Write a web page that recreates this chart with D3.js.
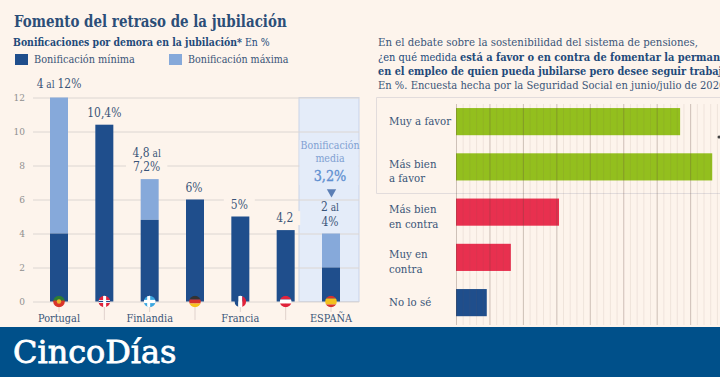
<!DOCTYPE html>
<html><head><meta charset="utf-8">
<script src="https://cdn.jsdelivr.net/npm/d3@7"></script>
<style>html,body{margin:0;padding:0;background:#fdf4ec;overflow:hidden}svg{display:block}text{font-family:"DejaVu Serif",serif}</style>
</head><body><svg id="c" width="720" height="377"></svg>
<script>
const countries=["Portugal","Reino Unido","Finlandia","Alemania","Francia","Austria","ESPAÑA"];
const minBonus=[4,10.4,4.8,6,5,4.2,2];
const maxBonus=[12,10.4,7.2,6,5,4.2,4];
const barLabels=[["4 al 12%"],["10,4%"],["4,8 al","7,2%"],["6%"],["5%"],["4,2"],["2 al","4%"]];
const yTicks=[0,2,4,6,8,10,12];
const surveyKeys=["Muy a favor","Más bien a favor","Más bien en contra","Muy en contra","No lo sé"];
const surveyLines=[["Muy a favor"],["Más bien","a favor"],["Más bien","en contra"],["Muy en","contra"],["No lo sé"]];
const surveyVals=[33.5,38.3,15.4,8.2,4.6];
const surveyColors=["#93bf1e","#93bf1e","#e8304f","#e8304f","#1f4e8c"];

const BG="#fdf4ec",DARK="#1f4e8c",LIGHT="#86a9da",INK="#3a5478",GRID="#dcd6d2";
const SX=0.93,LS=0.86;
const svg=d3.select("#c");
svg.append("rect").attr("width",720).attr("height",377).attr("fill",BG);
function T(parent,str,x,y,o={}){
  const t=parent.append("text").attr("transform",`translate(${x},${y}) scale(${o.sx||SX},1)`)
    .attr("font-size",o.size||10.5).attr("fill",o.fill||INK).attr("text-anchor",o.anchor||"start")
    .attr("font-weight",o.weight||400);
  (Array.isArray(str)?str:[[str,o.weight||400]]).forEach(p=>t.append("tspan").text(p[0]).attr("font-weight",p[1]));
  return t;
}
// left chart
const y=d3.scaleLinear().domain([0,12]).range([301.5,97.5]);
const x=d3.scalePoint().domain(countries).range([59,331]);
const L=33,R=359;
svg.append("rect").attr("x",299).attr("y",97.5).attr("width",60).attr("height",204).attr("fill","#e4ecf9").attr("stroke","#c9d3e8").attr("stroke-width",1);
const ax=svg.append("g").attr("transform",`translate(${L},0)`)
  .call(d3.axisLeft(y).tickValues(yTicks).tickSize(-(R-L)).tickPadding(8));
ax.select(".domain").remove();
ax.selectAll("line").attr("stroke",GRID).attr("stroke-width",1);
ax.selectAll("text").attr("font-family","DejaVu Serif").attr("font-size",9).attr("fill","#8f8f8f");
const gaps=svg.append("g");
const bars=svg.append("g");
const w=18;
countries.forEach((c,i)=>{
  const cx=x(c);
  if(maxBonus[i]>minBonus[i]) bars.append("rect").attr("x",cx-w/2).attr("width",w).attr("y",y(maxBonus[i])).attr("height",y(minBonus[i])-y(maxBonus[i])).attr("fill",LIGHT);
  bars.append("rect").attr("x",cx-w/2).attr("width",w).attr("y",y(minBonus[i])).attr("height",y(0)-y(minBonus[i])).attr("fill",DARK);
  const lab=barLabels[i],base=y(maxBonus[i])-(i==0?10:8);
  const lx=cx+(i==2?-3:(i<2?0:-1));
  lab.forEach((l,j)=>{
    const by=base-(lab.length-1-j)*14.5;
    const parts=l.split(/( al ?)/).filter(s=>s);
    const tx=T(svg,"",lx,by,{size:12.5,anchor:"middle",sx:LS});
    tx.selectAll("tspan").remove();
    parts.forEach(p=>tx.append("tspan").text(p).attr("font-size",/al/.test(p)?10.5:12.5));
    if(i!=6 && i!=0){const b=tx.node().getBBox(),pad=7;
      gaps.append("rect").attr("x",lx-b.width*LS/2-pad).attr("width",b.width*LS+2*pad).attr("y",by-11).attr("height",14).attr("fill",BG);}
  });
});
// panel callout
gaps.append("rect").attr("x",299.5).attr("y",140).attr("width",59).attr("height",45).attr("fill","#e4ecf9");
T(svg,"Bonificación",330,149,{size:10.5,anchor:"middle",fill:"#7fa0d2",sx:.9});
T(svg,"media",330,162,{size:10.5,anchor:"middle",fill:"#7fa0d2",sx:.9});
T(svg,"3,2%",330,181,{size:14,anchor:"middle",fill:"#5f8fd0",sx:.92}).attr("stroke","#5f8fd0").attr("stroke-width",.3);
svg.append("path").attr("d",d3.symbol(d3.symbolTriangle,38)()).attr("transform",`translate(331.5,192) rotate(180)`).attr("fill","#5c7fb5");
// flags
const defs=svg.append("defs");
const flags=[
 [["#2e7d32",-6,6],["#d9342b",-1,7]],
 [["#e0233c",-6,12],["#fff",-1.5,3],["#1f4e8c",-0.6,1.2]],
 [["#3ba7e0",-6,12],["#fff",-1.6,3.2]],
 [["#333",-6,4],["#d6322c",-2,4],["#f6c21c",2,4]],
 [["#1f4e8c",-6,4],["#fff",-2,4],["#e0233c",2,4]],
 [["#e0233c",-6,4],["#fff",-2,4],["#e0233c",2,4]],
 [["#d6322c",-6,3],["#f3c11e",-3,6],["#d6322c",3,3]]
];
const stems=[312,320,312,320,312,320,312];
const fy=301;
countries.forEach((c,i)=>{
  const cx=x(c);
  svg.append("line").attr("x1",cx).attr("x2",cx).attr("y1",fy).attr("y2",stems[i]).attr("stroke","#e0d2cd");
  defs.append("clipPath").attr("id","f"+i).append("circle").attr("cx",cx).attr("cy",fy+0.5).attr("r",5.8);
  const g=svg.append("g").attr("clip-path",`url(#f${i})`);
  flags[i].forEach(s=>{
    if(i==4) g.append("rect").attr("x",cx+s[1]).attr("y",fy-6).attr("width",s[2]).attr("height",13).attr("fill",s[0]);
    else g.append("rect").attr("x",cx-6).attr("y",fy+0.5+s[1]).attr("width",13).attr("height",s[2]).attr("fill",s[0]);
  });
  if(i==1||i==2) g.append("rect").attr("x",cx-(i==2?2.5:1.2)).attr("y",fy-6).attr("width",3).attr("height",13).attr("fill","#fff");
  if(i==0) g.append("circle").attr("cx",cx).attr("cy",fy+0.5).attr("r",2.2).attr("fill","#e7b52c");
  T(svg,c,cx,i%2==0?322:337,{size:10.5,anchor:"middle"});
});
// headers
T(svg,"Fomento del retraso de la jubilación",14,27,{size:16,weight:700,fill:"#2c4e78",sx:.84});
T(svg,[["Bonificaciones por demora en la jubilación*",700],[" En %",400]],13,46,{size:10.5,fill:"#234a7a",sx:.89});
svg.append("rect").attr("x",15).attr("y",54).attr("width",13).attr("height",11).attr("fill",DARK);
T(svg,"Bonificación mínima",34,63,{size:10.5});
svg.append("rect").attr("x",169).attr("y",54).attr("width",13).attr("height",11).attr("fill",LIGHT);
T(svg,"Bonificación máxima",188,63,{size:10.5,sx:.91});
// right chart
T(svg,"En el debate sobre la sostenibilidad del sistema de pensiones,",378,46,{size:11.2,sx:.91});
T(svg,[["¿en qué medida ",400],["está a favor o en contra de fomentar la permanencia",700]],378,60.5,{size:11.2,fill:"#234a7a",sx:.88});
T(svg,"en el empleo de quien pueda jubilarse pero desee seguir trabajando?",378,74.5,{size:11.2,weight:700,fill:"#234a7a",sx:.87});
T(svg,"En %. Encuesta hecha por la Seguridad Social en junio/julio de 2020",378,89,{size:11.2,sx:.89});
const xs=d3.scaleLinear().domain([0,100]).range([456,1125]);
const ys=d3.scaleBand().domain(surveyKeys).range([99,325.25]).paddingInner(0.4).paddingOuter(0.2);
svg.append("path").attr("d","M720,97.5H376.5V193.5H720").attr("fill","none").attr("stroke","#e2dcdc");
surveyKeys.forEach((k,i)=>{
  svg.append("rect").attr("x",xs(0)).attr("y",ys(k)).attr("width",xs(surveyVals[i])-xs(0)).attr("height",ys.bandwidth()).attr("fill",surveyColors[i]);
  const mid=ys(k)+ys.bandwidth()/2,ls=surveyLines[i];
  ls.forEach((l,j)=>T(svg,l,389,mid+(ls.length==2?1+j*14.5:3),{size:11}));
});
const minor=svg.append("g").attr("transform","translate(0,325)")
  .call(d3.axisBottom(xs).tickValues(d3.range(0,41,1)).tickSize(-221).tickFormat(""));
minor.select(".domain").remove();
minor.selectAll("line").attr("stroke","rgba(120,90,80,0.10)");
const major=svg.append("g").attr("transform","translate(0,325)")
  .call(d3.axisBottom(xs).tickValues(d3.range(0,41,5)).tickSize(-221).tickFormat(""));
major.select(".domain").remove();
major.selectAll("line").attr("stroke","rgba(90,70,60,0.22)");
svg.append("circle").attr("cx",719).attr("cy",137).attr("r",1.5).attr("fill","#444");
// footer
svg.append("rect").attr("y",327).attr("width",720).attr("height",50).attr("fill","#00508a");
T(svg,"CincoDías",13,363,{size:31,weight:400,fill:"#fff",sx:1.03}).attr("stroke","#fff").attr("stroke-width",.8);
</script></body></html>
